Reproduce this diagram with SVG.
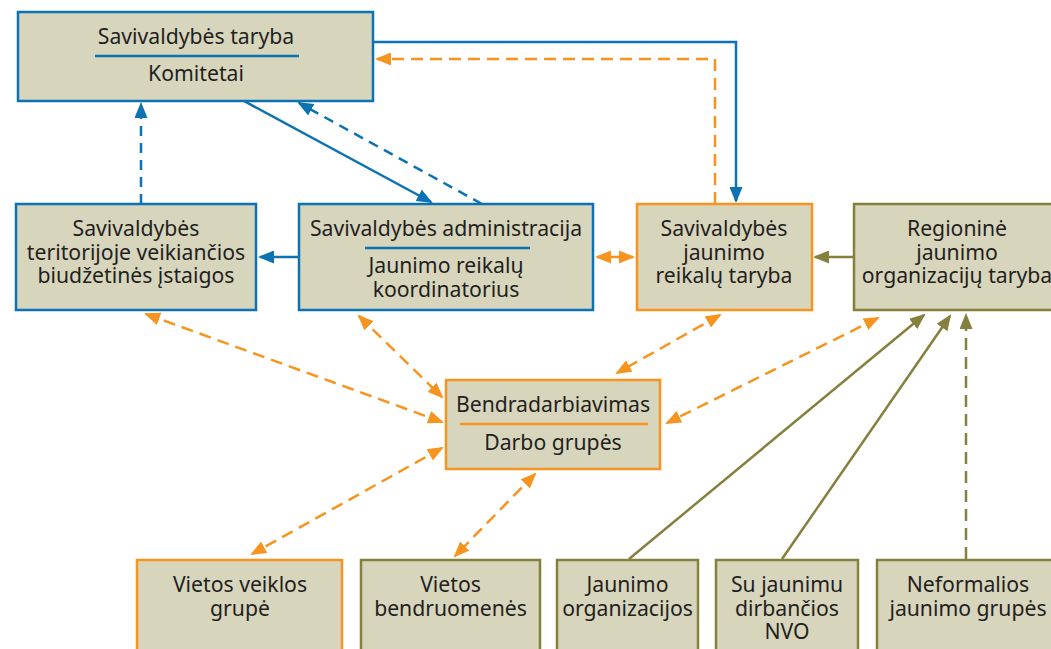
<svg xmlns="http://www.w3.org/2000/svg" width="1051" height="649" viewBox="0 0 1051 649">
<style>
.box{fill:#d8d5bd;stroke-width:2.5}
.b{stroke:#0b72b4}.o{stroke:#f7941e}.g{stroke:#85803d}
text{font-family:"Noto Sans","Open Sans",sans-serif;font-size:21.2px;fill:#231f20;text-anchor:middle}
.c{fill:none;stroke-width:2.5}
.d1{stroke-dasharray:10 7}
.d2{stroke-dasharray:12 7}
.sep{stroke-width:2.5}
</style>
<defs>
<marker id="ab" markerUnits="userSpaceOnUse" markerWidth="16" markerHeight="13" refX="14" refY="6.5" orient="auto-start-reverse"><path d="M0,0 L16,6.5 L0,13 z" fill="#0b72b4"/></marker>
<marker id="ao" markerUnits="userSpaceOnUse" markerWidth="16" markerHeight="13" refX="14" refY="6.5" orient="auto-start-reverse"><path d="M0,0 L16,6.5 L0,13 z" fill="#f7941e"/></marker>
<marker id="ag" markerUnits="userSpaceOnUse" markerWidth="16" markerHeight="13" refX="14" refY="6.5" orient="auto-start-reverse"><path d="M0,0 L16,6.5 L0,13 z" fill="#85803d"/></marker>
</defs>
<rect width="1051" height="649" fill="#ffffff"/>

<g id="connectors">
<path class="c b" d="M373,42 H736 V201" marker-end="url(#ab)"/>
<path class="c b" d="M244,101 L431,202" marker-end="url(#ab)"/>
<path class="c b d1" d="M482,204 L299,103" marker-end="url(#ab)"/>
<path class="c b d1" d="M141,204 V104" marker-end="url(#ab)"/>
<path class="c b" d="M299,257 H260" marker-end="url(#ab)"/>
<path class="c o d2" d="M715,204 V59 H377" marker-end="url(#ao)"/>
<path class="c o" d="M597,257 H633" marker-start="url(#ao)" marker-end="url(#ao)"/>
<path class="c o d2" d="M146,314 L442,422" marker-start="url(#ao)" marker-end="url(#ao)"/>
<path class="c o d2" d="M359,316 L442,397" marker-start="url(#ao)" marker-end="url(#ao)"/>
<path class="c o d2" d="M720,315 L617,373" marker-start="url(#ao)" marker-end="url(#ao)"/>
<path class="c o d2" d="M878,318 L667,423" marker-start="url(#ao)" marker-end="url(#ao)"/>
<path class="c o d2" d="M442,448 L252,554" marker-start="url(#ao)" marker-end="url(#ao)"/>
<path class="c o d2" d="M535,474 L455,556" marker-start="url(#ao)" marker-end="url(#ao)"/>
<path class="c g" d="M854,257 H815" marker-end="url(#ag)"/>
<path class="c g" d="M629,559 L924,315" marker-end="url(#ag)"/>
<path class="c g" d="M782,559 L950,316" marker-end="url(#ag)"/>
<path class="c g d2" d="M966,559 V315" marker-end="url(#ag)"/>
</g>

<g id="taryba">
<rect class="box b" x="18" y="12" width="355" height="89"/>
<text x="196" y="44">Savivaldybės taryba</text>
<line class="sep b" x1="95" y1="56" x2="299" y2="56"/>
<text x="196" y="81">Komitetai</text>
</g>

<g id="istaigos">
<rect class="box b" x="16" y="204" width="240" height="106"/>
<text x="136" y="236">Savivaldybės</text>
<text x="136" y="259.5">teritorijoje veikiančios</text>
<text x="136" y="283">biudžetinės įstaigos</text>
</g>

<g id="administracija">
<rect class="box b" x="299" y="204" width="294" height="106"/>
<text x="446" y="236">Savivaldybės administracija</text>
<line class="sep b" x1="365" y1="248" x2="530" y2="248"/>
<text x="446" y="273">Jaunimo reikalų</text>
<text x="446" y="297">koordinatorius</text>
</g>

<g id="jrt">
<rect class="box o" x="637" y="204" width="175" height="106"/>
<text x="724" y="236">Savivaldybės</text>
<text x="724" y="259.5">jaunimo</text>
<text x="724" y="283">reikalų taryba</text>
</g>

<g id="regionine">
<rect class="box g" x="854" y="204" width="210" height="106"/>
<text x="957" y="236">Regioninė</text>
<text x="957" y="259.5">jaunimo</text>
<text x="957" y="283">organizacijų taryba</text>
</g>

<g id="bendradarbiavimas">
<rect class="box o" x="446" y="380" width="214" height="89"/>
<text x="553" y="412">Bendradarbiavimas</text>
<line class="sep o" x1="460" y1="424" x2="648" y2="424"/>
<text x="553" y="450">Darbo grupės</text>
</g>

<g id="vvg">
<rect class="box o" x="137" y="560" width="205" height="100"/>
<text x="240" y="592">Vietos veiklos</text>
<text x="240" y="615.5">grupė</text>
</g>

<g id="bendruomenes">
<rect class="box g" x="361" y="560" width="179" height="100"/>
<text x="450.5" y="592">Vietos</text>
<text x="450.5" y="615.5">bendruomenės</text>
</g>

<g id="organizacijos">
<rect class="box g" x="557" y="560" width="141" height="100"/>
<text x="627.5" y="592">Jaunimo</text>
<text x="627.5" y="615.5">organizacijos</text>
</g>

<g id="nvo">
<rect class="box g" x="716" y="560" width="142" height="100"/>
<text x="787" y="592">Su jaunimu</text>
<text x="787" y="615.5">dirbančios</text>
<text x="787" y="639">NVO</text>
</g>

<g id="neformalios">
<rect class="box g" x="877" y="560" width="183" height="100"/>
<text x="968" y="592">Neformalios</text>
<text x="968" y="615.5">jaunimo grupės</text>
</g>
</svg>
